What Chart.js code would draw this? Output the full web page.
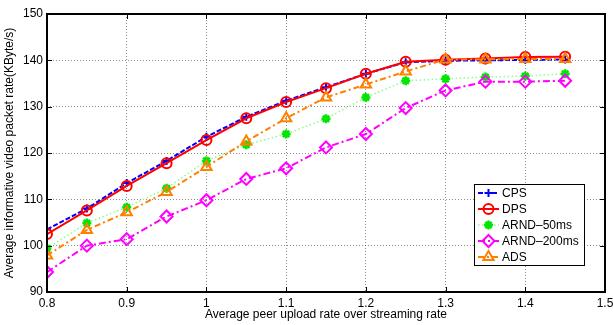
<!DOCTYPE html>
<html lang="en">
<head>
<meta charset="UTF-8">
<title>Informative packet rate</title>
<script src="https://cdn.jsdelivr.net/npm/chart.js"></script>
<style>
  body { margin: 0; background: #fff; }
  .chart-box { width: 613px; height: 325px; position: relative; }
</style>
</head>
<body>
<div class="chart-box">
  <canvas id="rateChart"></canvas>
</div>
<script>
// data
var uploadRates = [0.8, 0.85, 0.9, 0.95, 1.0, 1.05, 1.1, 1.15, 1.2, 1.25, 1.3, 1.35, 1.4, 1.45];
var cpsValues    = [103.5, 108.0, 113.5, 118.3, 123.5, 127.8, 131.3, 134.2, 137.1, 139.6, 139.9, 140.0, 140.1, 140.2];
var dpsValues    = [102.5, 107.6, 112.9, 117.8, 122.8, 127.5, 131.0, 134.0, 137.1, 139.7, 140.1, 140.4, 140.7, 140.8];
var arnd50Values = [99.4, 104.9, 108.3, 112.4, 118.3, 121.8, 124.1, 127.4, 132.0, 135.6, 136.0, 136.4, 136.6, 137.1];
var arnd200Values = [94.3, 100.0, 101.4, 106.3, 109.8, 114.4, 116.7, 121.2, 124.1, 129.7, 133.5, 135.4, 135.4, 135.6];
var adsValues    = [97.9, 103.4, 107.2, 111.6, 117.0, 122.5, 127.5, 132.0, 134.8, 137.6, 140.2, 140.2, 140.3, 140.3];
var seriesNames = ["CPS", "DPS", "ARND\u201350ms", "ARND\u2013200ms", "ADS"];
var xTicks = [0.8, 0.9, 1.0, 1.1, 1.2, 1.3, 1.4, 1.5];
var yTicks = [90, 100, 110, 120, 130, 140, 150];

function toPoints(vals) {
    return vals.map(function(v, i) { return { x: uploadRates[i], y: v }; });
}

var FONT = "'Liberation Sans', Arial, sans-serif";

// box around the plot, inward ticks and legend (matlab look)
var matlabFrame = {
    id: 'matlabFrame',
    afterDatasetsDraw: function(chart) {
        var ctx = chart.ctx, a = chart.chartArea;
        var sx = chart.scales.x, sy = chart.scales.y;
        ctx.save();
        ctx.strokeStyle = '#000';
        ctx.lineWidth = 1;
        xTicks.forEach(function(v) {
            var px = Math.round(sx.getPixelForValue(v)) + 0.5;
            ctx.beginPath();
            ctx.moveTo(px, a.bottom); ctx.lineTo(px, a.bottom - 5);
            ctx.moveTo(px, a.top); ctx.lineTo(px, a.top + 5);
            ctx.stroke();
        });
        yTicks.forEach(function(v) {
            var py = Math.round(sy.getPixelForValue(v)) + 0.5;
            ctx.beginPath();
            ctx.moveTo(a.left, py); ctx.lineTo(a.left + 5, py);
            ctx.moveTo(a.right, py); ctx.lineTo(a.right - 5, py);
            ctx.stroke();
        });
        ctx.lineWidth = 2;
        ctx.strokeRect(a.left, a.top, a.right - a.left, a.bottom - a.top);

        // legend
        var lx = 474, ly = 184, lw = 110, lh = 81;
        ctx.fillStyle = '#fff';
        ctx.fillRect(lx, ly, lw, lh);
        ctx.lineWidth = 1;
        ctx.strokeStyle = '#000';
        ctx.strokeRect(lx + 0.5, ly + 0.5, lw, lh);
        ctx.font = '12px ' + FONT;
        ctx.textBaseline = 'middle';
        chart.data.datasets.forEach(function(ds, i) {
            var y = ly + 9 + i * 16;
            ctx.save();
            ctx.strokeStyle = ds.borderColor;
            ctx.lineWidth = ds.borderWidth;
            ctx.setLineDash(ds.borderDash || []);
            ctx.beginPath();
            ctx.moveTo(lx + 4, y); ctx.lineTo(lx + 25, y);
            ctx.stroke();
            ctx.setLineDash([]);
            ctx.strokeStyle = ds.pointBorderColor;
            ctx.fillStyle = ds.pointBackgroundColor;
            ctx.lineWidth = ds.pointBorderWidth;
            Chart.helpers.drawPoint(ctx, {
                pointStyle: ds.pointStyle, radius: ds.pointRadius,
                borderWidth: ds.pointBorderWidth, rotation: 0
            }, lx + 14.5, y);
            ctx.restore();
            ctx.fillStyle = '#000';
            ctx.fillText(ds.label, lx + 28, y + 1);
        });
        ctx.restore();
    }
};

var ctx = document.getElementById('rateChart').getContext('2d');
var rateChart = new Chart(ctx, {
    type: 'line',
    data: {
        datasets: [
            {
                label: seriesNames[0], data: toPoints(cpsValues), order: 4,
                borderColor: '#0000ff', borderWidth: 2, borderDash: [5, 2],
                pointStyle: 'cross', pointRadius: 4, pointBorderWidth: 2,
                pointBorderColor: '#0000ff', pointBackgroundColor: 'rgba(0,0,0,0)'
            },
            {
                label: seriesNames[1], data: toPoints(dpsValues), order: 3,
                borderColor: '#ff0000', borderWidth: 2,
                pointStyle: 'circle', pointRadius: 5, pointBorderWidth: 2,
                pointBorderColor: '#ff0000', pointBackgroundColor: 'rgba(0,0,0,0)'
            },
            {
                label: seriesNames[2], data: toPoints(arnd50Values), order: 2,
                borderColor: '#88ff88', borderWidth: 1.5, borderDash: [1.5, 2.5],
                pointStyle: 'star', pointRadius: 4.5, pointBorderWidth: 2.5,
                pointBorderColor: '#00e600', pointBackgroundColor: '#00e600'
            },
            {
                label: seriesNames[3], data: toPoints(arnd200Values), order: 1,
                borderColor: '#ff00ff', borderWidth: 2, borderDash: [7, 3, 2, 3],
                pointStyle: 'rectRot', pointRadius: 6, pointBorderWidth: 2,
                pointBorderColor: '#ff00ff', pointBackgroundColor: 'rgba(0,0,0,0)'
            },
            {
                label: seriesNames[4], data: toPoints(adsValues), order: 0,
                borderColor: '#ff8000', borderWidth: 2, borderDash: [6, 3, 2, 3],
                pointStyle: 'triangle', pointRadius: 6, pointBorderWidth: 2,
                pointBorderColor: '#ff8000', pointBackgroundColor: 'rgba(0,0,0,0)'
            }
        ]
    },
    options: {
        responsive: true,
        maintainAspectRatio: false,
        animation: false,
        layout: { padding: { top: 14, right: 5, left: 2, bottom: 0 } },
        plugins: { legend: { display: false }, tooltip: { enabled: false } },
        elements: { line: { tension: 0 } },
        scales: {
            x: {
                type: 'linear', min: 0.8, max: 1.5,
                afterFit: function(s) { s.height = 33; s.paddingRight = 0; },
                afterBuildTicks: function(s) { s.ticks = xTicks.map(function(v) { return { value: v }; }); },
                grid: { color: 'rgba(0,0,0,0.45)', borderDash: [1, 2], drawTicks: false },
                border: { display: false, dash: [1, 2] },
                ticks: {
                    color: '#000', padding: 4, font: { family: FONT, size: 12 },
                    callback: function(v) { return String(+v.toFixed(2)); }
                },
                title: {
                    display: true, text: 'Average peer upload rate over streaming rate',
                    color: '#000', font: { family: FONT, size: 12 }, padding: { top: 0, bottom: 3 }
                }
            },
            y: {
                type: 'linear', min: 90, max: 150,
                afterFit: function(s) { s.width = 45; },
                afterBuildTicks: function(s) { s.ticks = yTicks.map(function(v) { return { value: v }; }); },
                grid: { color: 'rgba(0,0,0,0.45)', borderDash: [1, 2], drawTicks: false },
                border: { display: false, dash: [1, 2] },
                ticks: { color: '#000', padding: 4, font: { family: FONT, size: 12 } },
                title: {
                    display: true, text: 'Average informative video packet rate(KByte/s)',
                    color: '#000', font: { family: FONT, size: 12 }, padding: { top: 0, bottom: 0 }
                }
            }
        }
    },
    plugins: [matlabFrame]
});
</script>
</body>
</html>
